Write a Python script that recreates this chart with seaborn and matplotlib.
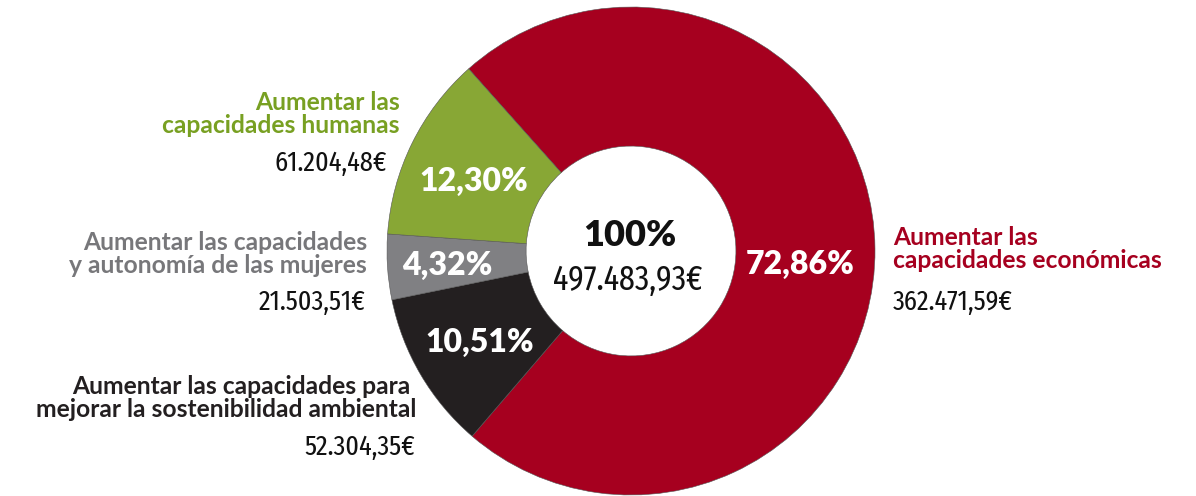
import matplotlib
matplotlib.use("Agg")
import matplotlib.pyplot as plt
import seaborn as sns

# ---- data ----
categories = [
    "Aumentar las\ncapacidades económicas",
    "Aumentar las capacidades para \nmejorar la sostenibilidad ambiental",
    "Aumentar las capacidades\ny autonomía de las mujeres",
    "Aumentar las\ncapacidades humanas",
]
amounts = ["362.471,59€", "52.304,35€", "21.503,51€", "61.204,48€"]
shares = [72.86, 10.51, 4.32, 12.30]
pct_labels = ["72,86%", "10,51%", "4,32%", "12,30%"]
colors = ["#A6001F", "#231F20", "#808083", "#88A735"]
label_colors = ["#A6001F", "#231F20", "#77777A", "#78A022"]
total_pct = "100%"
total_amount = "497.483,93€"

sns.set_theme(style="white")
plt.rcParams['font.family'] = ['Lato', 'DejaVu Sans']

W, H = 1196, 496
fig = plt.figure(figsize=(W / 100, H / 100), dpi=100)
cx, cy, R = 631, 251, 244
ax = fig.add_axes([(cx - R) / W, (H - cy - R) / H, 2 * R / W, 2 * R / H])

inner = 0.43
wedges, _ = ax.pie(shares, colors=colors, startangle=131.7, counterclock=False,
                   radius=1, wedgeprops=dict(width=1 - inner, edgecolor="#555555", linewidth=0.4))
ax.set_xlim(-1, 1)
ax.set_ylim(-1, 1)
ax.set_aspect("equal")
ax.axis("off")


def px(x, y):
    """pixel (from top-left) -> data coords"""
    return ((x - cx) / R, (cy - y) / R)


num_font = ['Fira Sans Extra Condensed', 'DejaVu Sans']

# percentage labels
pct_pos = [(800, 264), (480, 342), (447, 265), (474, 181)]
for (x, y), t in zip(pct_pos, pct_labels):
    ax.text(*px(x, y), t, ha="center", va="center", color="white",
            fontsize=23, fontweight="heavy")

# centre
ax.text(*px(630, 236), total_pct, ha="center", va="center", color="#111111",
        fontsize=26, fontweight="heavy")
ax.text(*px(628, 280), total_amount, ha="center", va="center", color="#111111",
        fontsize=25, family=num_font)

# category labels
lab_pos = [(893, 249, "left"), (416, 398, "right"), (367, 254, "right"), (400, 114, "right")]
amt_pos = [(893, 302, "left"), (415, 447, "right"), (366, 302, "right"), (387, 163, "right")]
for i in range(4):
    x, y, ha = lab_pos[i]
    ax.text(*px(x, y), categories[i], ha=ha, va="center", color=label_colors[i],
            fontsize=17.7, fontweight="bold", linespacing=1.0, clip_on=False)
    x, y, ha = amt_pos[i]
    ax.text(*px(x, y), amounts[i], ha=ha, va="center", color="#111111",
            fontsize=20.5, family=num_font, clip_on=False)

fig.savefig("out.png", dpi=100)
